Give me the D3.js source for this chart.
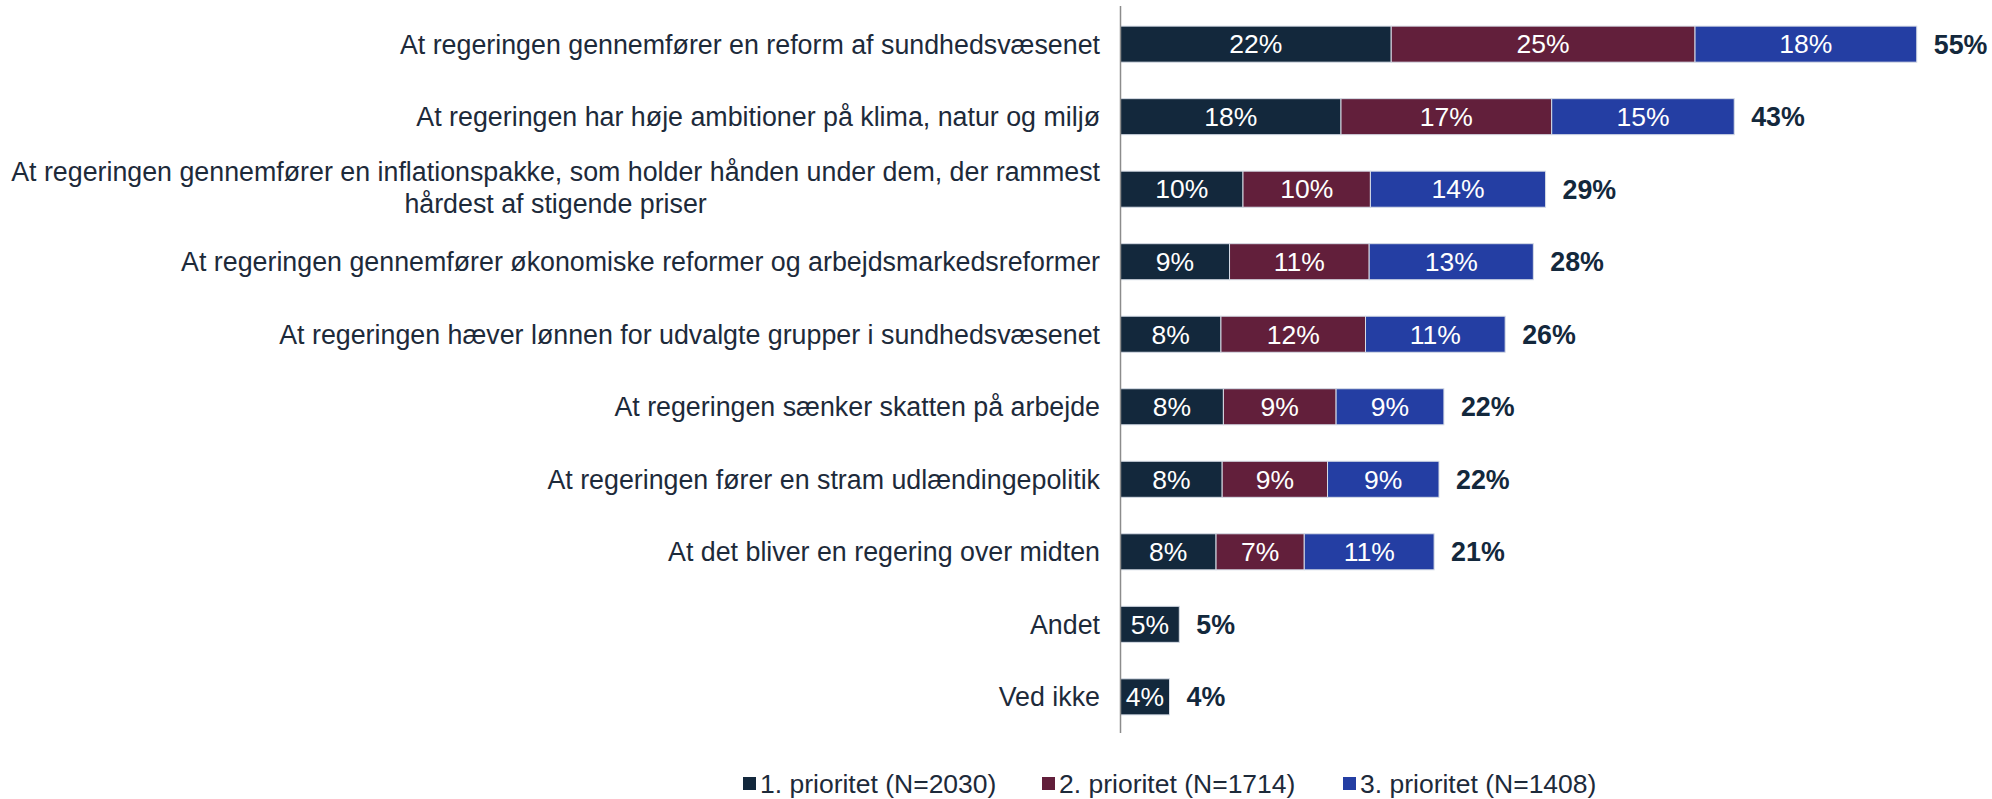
<!DOCTYPE html>
<html>
<head>
<meta charset="utf-8">
<script src="https://cdn.jsdelivr.net/npm/d3@7"></script>
<style>
    body { margin: 0; background: #fff; }
    text { font-family: "Liberation Sans", Arial, sans-serif; }
</style>
</head>
<body>
<div id="chart"></div>
<script>
// categories (multi-line labels split with "\n")
const categories = [
    "At regeringen gennemfører en reform af sundhedsvæsenet",
    "At regeringen har høje ambitioner på klima, natur og miljø",
    "At regeringen gennemfører en inflationspakke, som holder hånden under dem, der rammest\nhårdest af stigende priser",
    "At regeringen gennemfører økonomiske reformer og arbejdsmarkedsreformer",
    "At regeringen hæver lønnen for udvalgte grupper i sundhedsvæsenet",
    "At regeringen sænker skatten på arbejde",
    "At regeringen fører en stram udlændingepolitik",
    "At det bliver en regering over midten",
    "Andet",
    "Ved ikke"
];
// shares (labels show them rounded)
const prio1 = [22.1, 18.0, 10.0, 8.9, 8.2, 8.4, 8.3, 7.8, 4.8, 4.0];
const prio2 = [24.8, 17.2, 10.4, 11.4, 11.8, 9.2, 8.6, 7.2, 0, 0];
const prio3 = [18.1, 14.9, 14.3, 13.4, 11.4, 8.8, 9.1, 10.6, 0, 0];
const totals = [55, 43, 29, 28, 26, 22, 22, 21, 5, 4];
const seriesNames = ["1. prioritet (N=2030)", "2. prioritet (N=1714)", "3. prioritet (N=1408)"];
const colors = ["#13283c", "#621f3b", "#243ea3"];

const width = 1992, height = 799;
const svg = d3.select("#chart").append("svg")
    .attr("width", width)
    .attr("height", height);

const x = d3.scaleLinear().domain([0, 65]).range([1120.5, 1916.75]);
const y = d3.scaleBand().domain(d3.range(categories.length))
    .range([8, 733]).paddingInner(0.503).paddingOuter(0.25);

const rows = categories.map((c, i) => {
    const vals = [prio1[i], prio2[i], prio3[i]];
    let acc = 0;
    const segs = vals.map((v, k) => {
        const s = { k: k, x0: acc, x1: acc + v, v: v };
        acc += v;
        return s;
    }).filter(s => s.v > 0);
    return { i: i, segs: segs, end: acc, total: totals[i] };
});

const g = svg.append("g");
const row = g.selectAll("g.row").data(rows).enter().append("g").attr("class", "row");

row.selectAll("rect")
    .data(d => d.segs.map(s => Object.assign({ i: d.i }, s)))
    .enter().append("rect")
    .attr("x", s => x(s.x0))
    .attr("y", s => y(s.i))
    .attr("width", s => x(s.x1) - x(s.x0))
    .attr("height", y.bandwidth())
    .attr("fill", s => colors[s.k])
    .attr("stroke", "#d6dce6")
    .attr("stroke-width", 1);

row.selectAll("text.val")
    .data(d => d.segs.map(s => Object.assign({ i: d.i }, s)))
    .enter().append("text")
    .attr("class", "val")
    .attr("x", s => (x(s.x0) + x(s.x1)) / 2)
    .attr("y", s => y(s.i) + y.bandwidth() / 2)
    .attr("dy", "0.35em")
    .attr("text-anchor", "middle")
    .attr("fill", "#fff")
    .style("font-size", "26.5px")
    .text(s => Math.round(s.v) + "%");

row.append("text")
    .attr("x", d => x(d.end) + 17)
    .attr("y", d => y(d.i) + y.bandwidth() / 2)
    .attr("dy", "0.35em")
    .attr("fill", "#13283c")
    .style("font-size", "26.8px")
    .style("font-weight", "bold")
    .text(d => d.total + "%");

// axis line
svg.append("line")
    .attr("x1", x(0)).attr("x2", x(0))
    .attr("y1", 6).attr("y2", 733)
    .attr("stroke", "#8c8c8c")
    .attr("stroke-width", 1.5);

// category labels
const labelRight = 1100;
categories.forEach((c, i) => {
    const lines = c.split("\n");
    const cy = y(i) + y.bandwidth() / 2;
    const t = svg.append("text")
        .attr("fill", "#1d2a3a")
        .style("font-size", "26.8px");
    if (lines.length === 1) {
        t.attr("x", labelRight).attr("y", cy).attr("dy", "0.35em")
            .attr("text-anchor", "end").text(c);
    } else {
        const lh = 32;
        const spans = t.selectAll("tspan").data(lines).enter().append("tspan")
            .attr("y", (l, j) => cy - 2 + (j - (lines.length - 1) / 2) * lh)
            .attr("dy", "0.35em")
            .text(l => l);
        const maxW = d3.max(spans.nodes(), n => n.getComputedTextLength());
        spans.attr("x", labelRight - maxW / 2).attr("text-anchor", "middle");
    }
});

// legend
const legendX = [743, 1042, 1343];
const legend = svg.append("g").selectAll("g").data(seriesNames).enter().append("g")
    .attr("transform", (d, k) => `translate(${legendX[k]},784)`);
legend.append("rect")
    .attr("x", 0).attr("y", -7)
    .attr("width", 13).attr("height", 13)
    .attr("fill", (d, k) => colors[k]);
legend.append("text")
    .attr("x", 17).attr("y", 0).attr("dy", "0.35em")
    .attr("fill", "#1d2a3a")
    .style("font-size", "26.5px")
    .text(d => d);
</script>
</body>
</html>
